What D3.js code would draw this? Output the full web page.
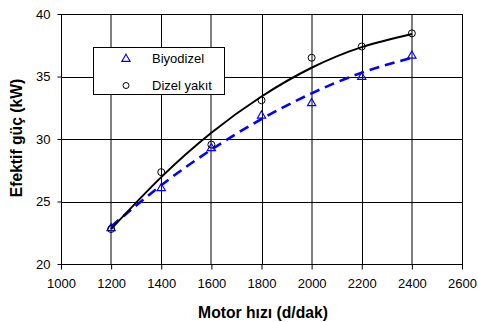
<!DOCTYPE html>
<html>
<head>
<meta charset="utf-8">
<script src="https://cdn.jsdelivr.net/npm/d3@7"></script>
<style>
  html, body { margin: 0; padding: 0; background: #fff; }
  svg { display: block; font-family: "Liberation Sans", Arial, sans-serif; }
</style>
</head>
<body>
<svg id="chart" width="478" height="322"></svg>
<script>
// ---- data ----
const rpm = [1200, 1400, 1600, 1800, 2000, 2200, 2400];
const biyodizel = [22.9, 26.1, 29.3, 31.9, 32.9, 35.0, 36.7];
const dizel = [22.8, 27.35, 29.55, 33.1, 36.5, 37.4, 38.45];
const biyodizelTrend = [23.0, 26.3, 29.15, 31.6, 33.65, 35.3, 36.5];
const dizelTrend = [22.8, 26.95, 30.5, 33.4, 35.7, 37.35, 38.4];
const xTicks = [1000, 1200, 1400, 1600, 1800, 2000, 2200, 2400, 2600];
const yTicks = [20, 25, 30, 35, 40];
const seriesNames = ["Biyodizel", "Dizel yakıt"];
const xTitle = "Motor hızı (d/dak)";
const yTitle = "Efektif güç (kW)";

// ---- layout ----
const svg = d3.select("#chart");
const L = 61, T = 14, R = 462, B = 264;
const x = d3.scaleLinear().domain([1000, 2600]).range([L, R]);
const y = d3.scaleLinear().domain([20, 40]).range([B, T]);

// gridlines
const g = svg.append("g");
xTicks.slice(1, -1).forEach((v, i) => {
  const px = Math.round(x(v));
  const gray = (i % 2 === 0);
  g.append("line")
    .attr("x1", gray ? px : px + 0.5).attr("x2", gray ? px : px + 0.5)
    .attr("y1", T).attr("y2", B)
    .attr("stroke", gray ? "#7f7f7f" : "#000")
    .attr("stroke-width", gray ? 2 : 1);
});
yTicks.slice(1, -1).forEach(v => {
  const py = Math.round(y(v)) + 0.5;
  g.append("line").attr("x1", L).attr("x2", R).attr("y1", py).attr("y2", py)
    .attr("stroke", "#000").attr("stroke-width", 1);
});

// frame
svg.append("rect").attr("x", L + 0.5).attr("y", T + 0.5)
  .attr("width", R - L).attr("height", B - T)
  .attr("fill", "none").attr("stroke", "#000").attr("stroke-width", 1);

// axes
const xAxis = svg.append("g").attr("transform", `translate(0,${B + 0.5})`)
  .call(d3.axisBottom(x).tickValues(xTicks).tickSize(5).tickPadding(9).tickFormat(d3.format("d")));
const yAxis = svg.append("g").attr("transform", `translate(${L + 0.5},0)`)
  .call(d3.axisLeft(y).tickValues(yTicks).tickSize(4).tickPadding(7).tickFormat(d3.format("d")));
[xAxis, yAxis].forEach(a => {
  a.select(".domain").remove();
  a.selectAll("line").attr("stroke", "#000");
  a.selectAll("text").attr("font-family", "Liberation Sans, Arial, sans-serif")
    .attr("font-size", 13).attr("fill", "#000");
});

// trend lines
const lineGen = d3.line().x((d, i) => x(rpm[i])).y(d => y(d)).curve(d3.curveNatural);
svg.append("path").datum(biyodizelTrend).attr("d", lineGen)
  .attr("fill", "none").attr("stroke", "#0000ff").attr("stroke-width", 2.6)
  .attr("stroke-dasharray", "10,6");
svg.append("path").datum(dizelTrend).attr("d", lineGen)
  .attr("fill", "none").attr("stroke", "#000").attr("stroke-width", 2);

// markers
const tri = d3.symbol().type(d3.symbolTriangle).size(30);
svg.append("g").selectAll("path").data(biyodizel).join("path")
  .attr("d", tri)
  .attr("transform", (d, i) => `translate(${x(rpm[i])},${y(d) + 0.5})`)
  .attr("fill", "none").attr("stroke", "#0000ff").attr("stroke-width", 1.1);
svg.append("g").selectAll("circle").data(dizel).join("circle")
  .attr("cx", (d, i) => x(rpm[i])).attr("cy", d => y(d)).attr("r", 3.5)
  .attr("fill", "none").attr("stroke", "#000").attr("stroke-width", 1);

// legend
const lg = svg.append("g");
lg.append("rect").attr("x", 93.5).attr("y", 47.5).attr("width", 131).attr("height", 47)
  .attr("fill", "#fff").attr("stroke", "#000").attr("stroke-width", 1);
lg.append("path").attr("d", tri).attr("transform", "translate(126,59)")
  .attr("fill", "none").attr("stroke", "#0000ff").attr("stroke-width", 1.1);
lg.append("circle").attr("cx", 126).attr("cy", 85.5).attr("r", 3)
  .attr("fill", "none").attr("stroke", "#000").attr("stroke-width", 1);
lg.append("text").attr("x", 152).attr("y", 62.5).text(seriesNames[0])
  .attr("font-size", 13).attr("fill", "#000");
lg.append("text").attr("x", 152).attr("y", 89.5).text(seriesNames[1])
  .attr("font-size", 13).attr("fill", "#000");

// titles
svg.append("text").attr("x", 263).attr("y", 317.5).attr("text-anchor", "middle")
  .attr("font-size", 15.7).attr("font-weight", "bold").text(xTitle);
svg.append("text").attr("transform", `translate(22,138) rotate(-90)`)
  .attr("text-anchor", "middle").attr("font-size", 15.7).attr("font-weight", "bold").text(yTitle);
</script>
</body>
</html>
